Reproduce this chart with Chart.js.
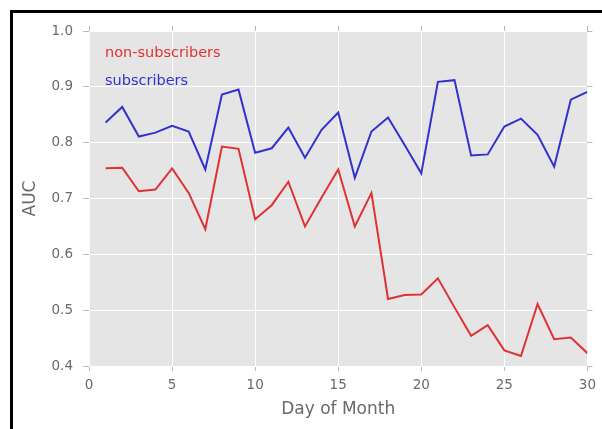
<!DOCTYPE html>
<html>
<head>
<meta charset="utf-8">
<script src="https://cdn.jsdelivr.net/npm/chart.js@4/dist/chart.umd.min.js"></script>
<style>
  html, body { margin: 0; padding: 0; background: #fff; }
  #wrap { position: relative; width: 602px; height: 429px; overflow: hidden; }
  #frame { position: absolute; left: 10px; top: 10px; right: -10px; bottom: -10px;
           border-top: 3px solid #000; border-left: 3px solid #000; pointer-events: none; }
  canvas { position: absolute; left: 0; top: 0; }
</style>
</head>
<body>
<div id="wrap">
  <canvas id="chart" width="602" height="429"></canvas>
  <div id="frame"></div>
</div>
<script>
// Daily AUC per customer group
const days = [1, 2, 3, 4, 5, 6, 7, 8, 9, 10, 11, 12, 13, 14, 15,
              16, 17, 18, 19, 20, 21, 22, 23, 24, 25, 26, 27, 28, 29, 30];
const nonSubscribers = [0.754, 0.755, 0.713, 0.716, 0.754, 0.710, 0.645, 0.793, 0.789, 0.663,
                        0.688, 0.730, 0.650, 0.702, 0.752, 0.650, 0.710, 0.520, 0.527, 0.528,
                        0.557, 0.505, 0.454, 0.473, 0.428, 0.418, 0.511, 0.448, 0.451, 0.423];
const subscribers = [0.836, 0.864, 0.811, 0.818, 0.830, 0.820, 0.752, 0.886, 0.895, 0.782,
                     0.790, 0.827, 0.773, 0.823, 0.854, 0.737, 0.820, 0.845, 0.796, 0.745,
                     0.909, 0.912, 0.777, 0.779, 0.829, 0.843, 0.814, 0.757, 0.877, 0.891];
const xTicks = [0, 5, 10, 15, 20, 25, 30];
const yTicks = [0.4, 0.5, 0.6, 0.7, 0.8, 0.9, 1.0];

const RED = 'rgb(224, 50, 50)';
const BLUE = 'rgb(50, 50, 205)';
const PANEL = '#e5e5e5';
const TICK_COLOR = '#b8b8b8';
const TEXT_COLOR = '#6a6a6a';
const FONT = "'DejaVu Sans', sans-serif";

const toPoints = vals => days.map((d, i) => ({ x: d, y: vals[i] }));

// grey panel behind the grid
const panelBackground = {
  id: 'panelBackground',
  beforeDraw(chart) {
    const { ctx, chartArea: a } = chart;
    ctx.save();
    ctx.fillStyle = PANEL;
    ctx.fillRect(a.left, a.top, a.right - a.left, a.bottom - a.top);
    ctx.restore();
  }
};

// text-only legend in the upper left of the panel, coloured like each line
const textLegend = {
  id: 'textLegend',
  afterDatasetsDraw(chart) {
    const { ctx, chartArea: a } = chart;
    ctx.save();
    ctx.font = `14.5px ${FONT}`;
    ctx.textAlign = 'left';
    ctx.textBaseline = 'middle';
    chart.data.datasets.forEach((ds, i) => {
      ctx.fillStyle = ds.borderColor;
      ctx.fillText(ds.label, a.left + 16, a.top + 22 + i * 28);
    });
    ctx.restore();
  }
};

const tickFont = { family: FONT, size: 13.5 };
const blank = () => '';

new Chart(document.getElementById('chart'), {
  type: 'line',
  data: {
    datasets: [
      { label: 'non-subscribers', data: toPoints(nonSubscribers), borderColor: RED,
        borderWidth: 2, pointRadius: 0, tension: 0, fill: false },
      { label: 'subscribers', data: toPoints(subscribers), borderColor: BLUE,
        borderWidth: 2, pointRadius: 0, tension: 0, fill: false }
    ]
  },
  options: {
    responsive: false,
    animation: false,
    events: [],
    layout: { padding: 0 },
    plugins: { legend: { display: false }, tooltip: { enabled: false } },
    scales: {
      x: {
        type: 'linear', position: 'bottom', min: 0, max: 30,
        afterBuildTicks: s => { s.ticks = xTicks.map(v => ({ value: v })); },
        afterFit: s => { s.height = 63; },
        ticks: { font: tickFont, color: TEXT_COLOR, padding: 6, maxRotation: 0 },
        grid: { color: '#ffffff', lineWidth: 1, tickColor: TICK_COLOR, tickLength: 5 },
        border: { display: false },
        title: { display: true, text: 'Day of Month', color: TEXT_COLOR,
                 font: { family: FONT, size: 17 }, padding: { top: 0, bottom: 9 } }
      },
      xTop: {
        type: 'linear', position: 'top', min: 0, max: 30,
        afterBuildTicks: s => { s.ticks = xTicks.map(v => ({ value: v })); },
        afterFit: s => { s.height = 31; },
        ticks: { callback: blank, padding: 0 },
        grid: { drawOnChartArea: false, tickColor: TICK_COLOR, tickLength: 5 },
        border: { display: false }
      },
      y: {
        type: 'linear', position: 'left', min: 0.4, max: 1.0,
        afterBuildTicks: s => { s.ticks = yTicks.map(v => ({ value: v })); },
        afterFit: s => { s.width = 89; },
        ticks: { font: tickFont, color: TEXT_COLOR, padding: 10,
                 callback: v => Number(v).toFixed(1) },
        grid: { color: '#ffffff', lineWidth: 1, tickColor: TICK_COLOR, tickLength: 6 },
        border: { display: false },
        title: { display: true, text: 'AUC', color: TEXT_COLOR,
                 font: { family: FONT, size: 17 }, padding: { top: 20, bottom: 0 } }
      },
      yRight: {
        type: 'linear', position: 'right', min: 0.4, max: 1.0,
        afterBuildTicks: s => { s.ticks = yTicks.map(v => ({ value: v })); },
        afterFit: s => { s.width = 9; },
        ticks: { callback: blank, padding: 0 },
        grid: { drawOnChartArea: false, tickColor: TICK_COLOR, tickLength: 5 },
        border: { display: false }
      }
    }
  },
  plugins: [panelBackground, textLegend]
});
</script>
</body>
</html>
